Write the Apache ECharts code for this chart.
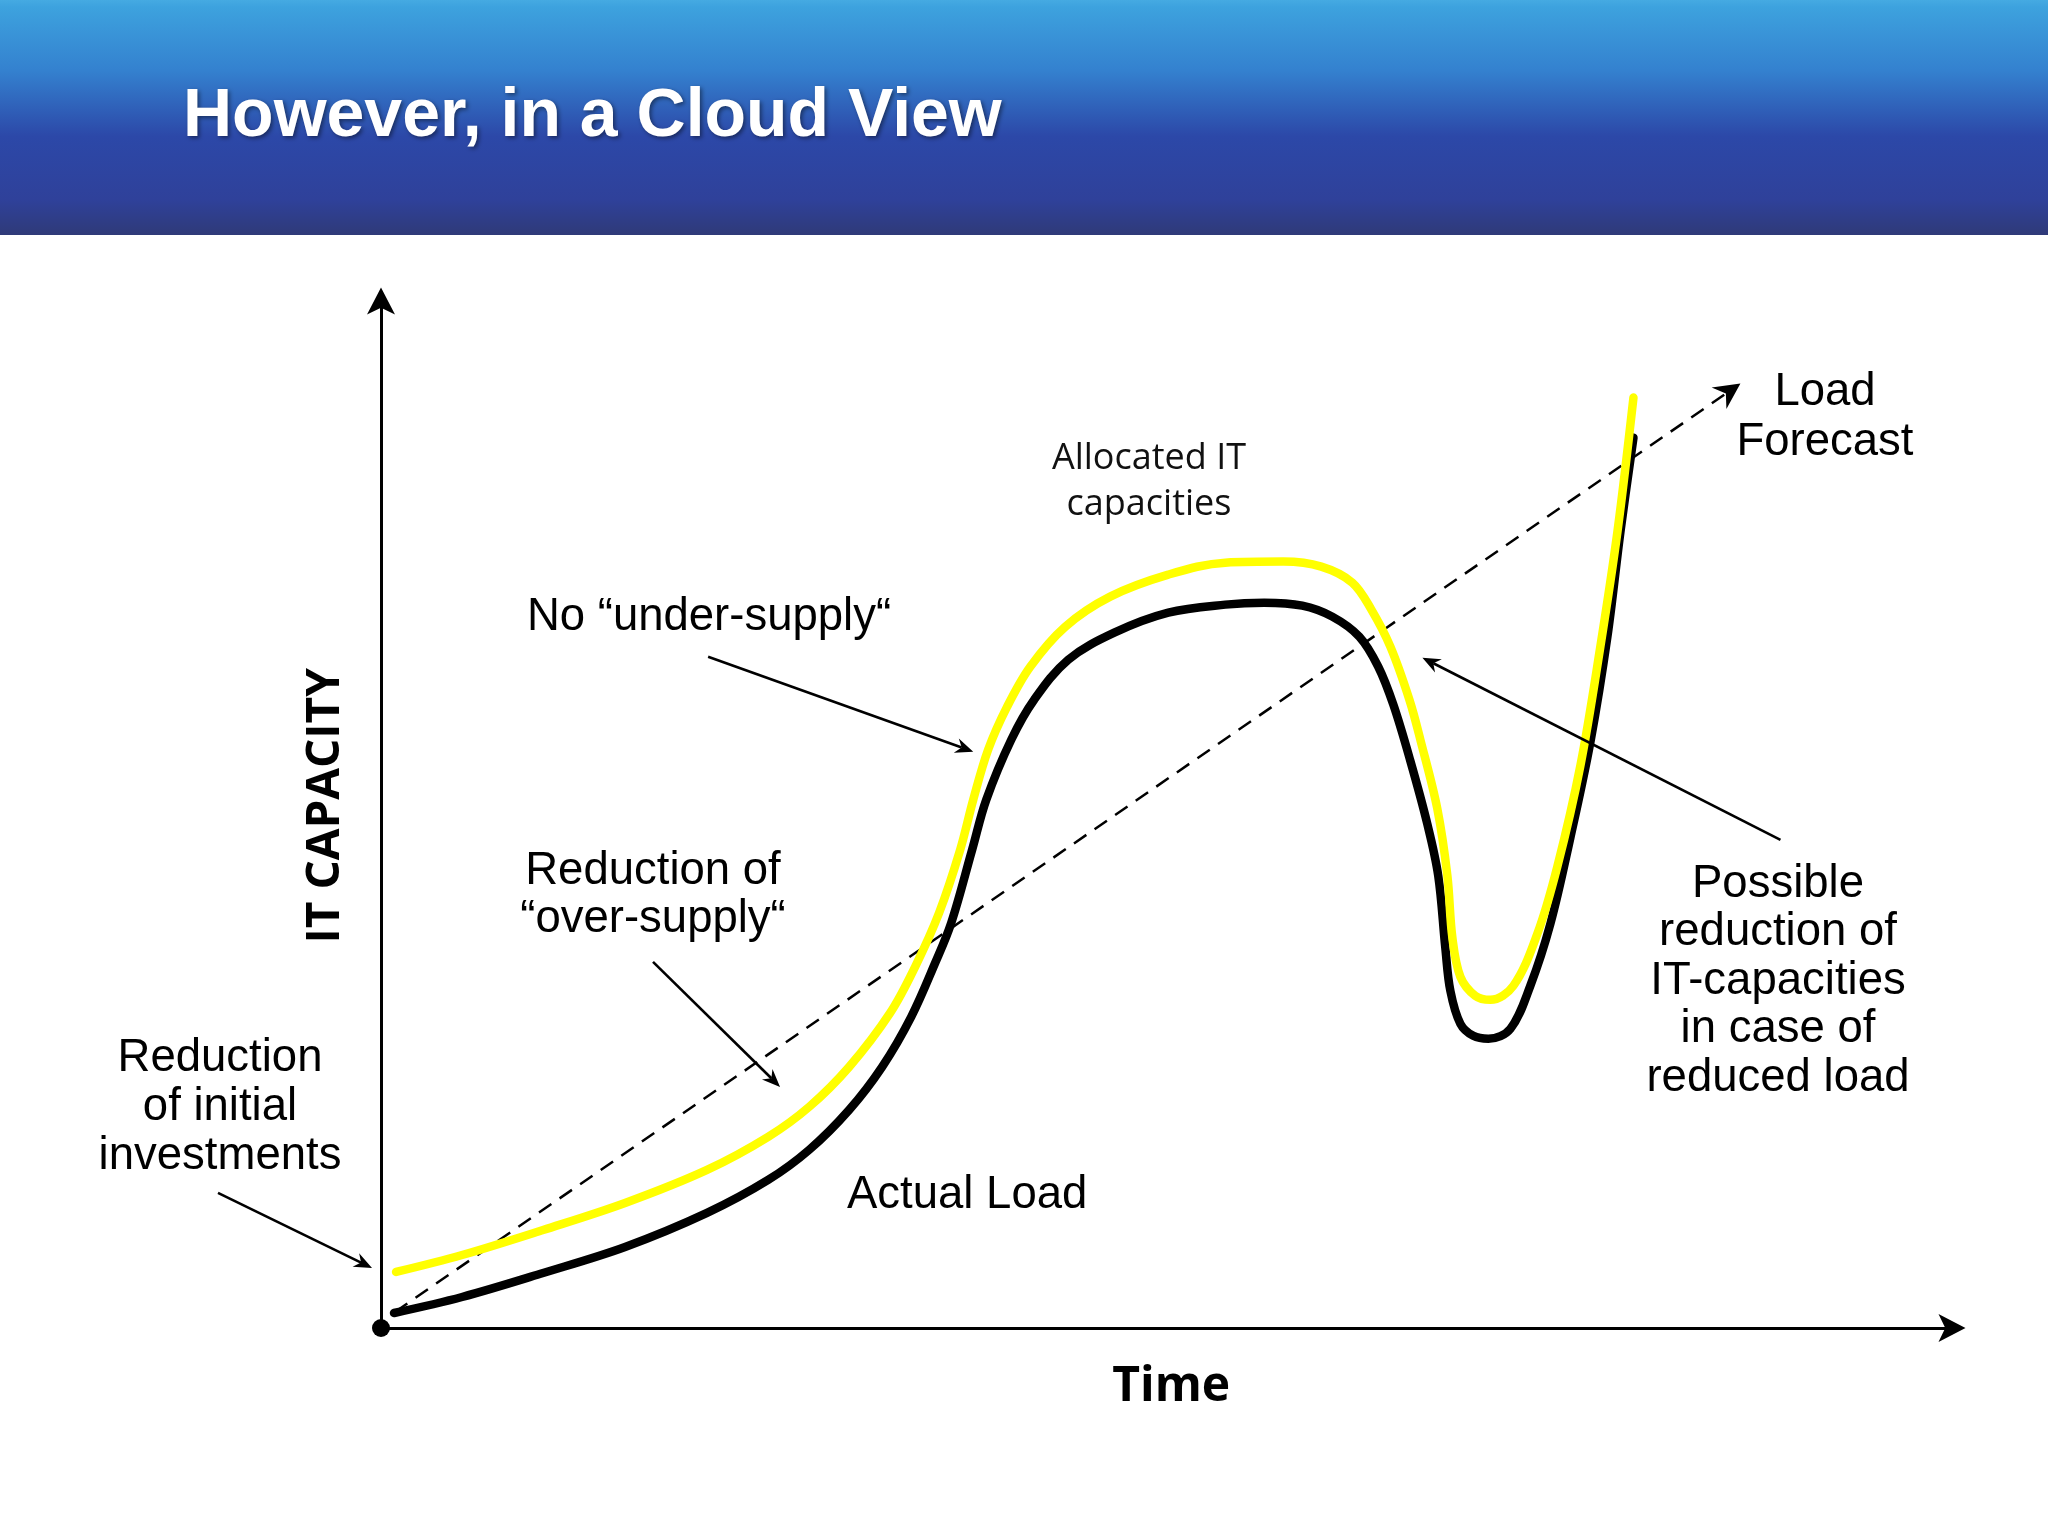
<!DOCTYPE html>
<html>
<head>
<meta charset="utf-8">
<script src="https://cdn.jsdelivr.net/npm/echarts@6/dist/echarts.min.js"></script>
<style>
html, body { margin: 0; padding: 0; background: #ffffff; }
#chart { width: 2048px; height: 1536px; }
</style>
</head>
<body>
<div id="chart"></div>
<script>
// ---------------- data (x: time units 0-100, y: capacity units 0-100) ----------------
const titleText = 'However, in a Cloud View';
const xAxisName = 'Time';
const yAxisName = 'IT CAPACITY';

// Actual Load (black curve)
const actualLoad = [
  [0.83, 1.46], [5.16, 3.02], [10.32, 5.36], [15.54, 7.89], [20.76, 11.21],
  [24.65, 14.42], [27.26, 17.35], [29.81, 21.25], [31.91, 25.44], [33.76, 30.31],
  [35.29, 35.58], [36.31, 39.47], [37.64, 46.59], [38.54, 51.46], [40.13, 57.31],
  [41.59, 61.21], [43.76, 65.11], [46.69, 67.74], [50.13, 69.69], [53.76, 70.47],
  [56.24, 70.66], [58.66, 70.37], [60.57, 69.30], [62.29, 67.35], [63.50, 64.42],
  [64.46, 60.72], [65.54, 55.26], [66.62, 49.12], [67.32, 44.05], [67.77, 37.04],
  [68.09, 32.85], [68.73, 29.63], [69.55, 28.46], [70.51, 28.17], [71.91, 29.14],
  [73.18, 33.33], [74.46, 39.38], [75.73, 47.76], [77.01, 57.12], [78.09, 67.35],
  [78.92, 77.58], [79.75, 86.74]
];

// Allocated IT capacities (yellow curve)
const allocatedCapacity = [
  [0.96, 5.46], [5.16, 7.11], [10.32, 9.55], [15.54, 12.18], [20.76, 15.40],
  [24.65, 18.62], [27.26, 21.54], [29.81, 25.44], [32.42, 30.70], [34.01, 35.19],
  [35.54, 40.45], [36.88, 46.59], [37.71, 51.46], [38.66, 56.34], [39.87, 60.53],
  [41.34, 64.42], [43.57, 68.32], [46.43, 71.25], [50.13, 73.39], [53.76, 74.56],
  [57.45, 74.66], [59.87, 74.17], [61.85, 72.61], [63.06, 69.98], [64.27, 66.37],
  [65.48, 61.21], [66.18, 57.31], [67.26, 50.58], [67.90, 44.05], [68.22, 38.01],
  [68.73, 34.21], [69.68, 32.36], [70.64, 31.97], [72.10, 33.33], [73.63, 38.40],
  [74.90, 44.93], [76.37, 54.78], [77.64, 66.37], [78.73, 77.58], [79.75, 90.64]
];

// Load Forecast (dashed arrow): [x1, y1, x2, y2]
const loadForecast = [[0.89, 1.56, 86.56, 92.01]];

// Callout arrows: [xFrom, yFrom, xTo, yTo]
const calloutArrows = [
  [-10.38, 13.16, -0.57, 5.85],   // initial investments
  [20.83, 65.40, 37.71, 56.14],   // no under-supply
  [17.32, 35.67, 25.41, 23.49],   // over-supply
  [89.11, 47.56, 66.31, 65.30]    // possible reduction
];

const originPoint = [[0, 0]];

// Annotation texts
const annotationTexts = [
  'Reduction\nof initial\ninvestments',
  'No \u201Cunder-supply\u201C',
  'Reduction of\n\u201Cover-supply\u201C',
  'Actual Load',
  'Load\nForecast',
  'Possible\nreduction of\nIT-capacities\nin case of\nreduced load',
  'Allocated IT\ncapacities'
];

// ---------------- rendering ----------------
const chart = echarts.init(document.getElementById('chart'), null, { renderer: 'canvas' });

function arrowRenderer(opts) {
  return function (params, api) {
    const p1 = api.coord([api.value(0), api.value(1)]);
    const p2 = api.coord([api.value(2), api.value(3)]);
    const dx = p2[0] - p1[0], dy = p2[1] - p1[1];
    const len = Math.hypot(dx, dy);
    const ux = dx / len, uy = dy / len;
    const px = -uy, py = ux;
    const L = opts.headLength, W = opts.headWidth;
    const bx = p2[0] - ux * L, by = p2[1] - uy * L;
    const nx = p2[0] - ux * L * 0.68, ny = p2[1] - uy * L * 0.68;
    return {
      type: 'group',
      children: [
        {
          type: 'line',
          shape: { x1: p1[0], y1: p1[1], x2: nx, y2: ny },
          style: { stroke: '#000', lineWidth: opts.width, lineDash: opts.dash || null }
        },
        {
          type: 'polygon',
          shape: { points: [[p2[0], p2[1]], [bx + px * W, by + py * W], [nx, ny], [bx - px * W, by - py * W]] },
          style: { fill: '#000' }
        }
      ]
    };
  };
}

const bodyFont = '45.5px "Liberation Sans", Arial, sans-serif';
function textEl(text, x, y, extra) {
  return {
    type: 'text', x: x, y: y, z: 100, silent: true,
    style: Object.assign({
      text: text, fill: '#000', font: bodyFont,
      align: 'center', verticalAlign: 'middle', lineHeight: 48
    }, extra || {})
  };
}

const option = {
  backgroundColor: '#ffffff',
  animation: false,
  title: {
    text: titleText,
    left: 183,
    top: 83,
    padding: 0,
    textStyle: {
      color: '#ffffff',
      fontSize: 68,
      fontWeight: 'bold',
      fontFamily: '"Liberation Sans", Arial, sans-serif',
      textShadowColor: 'rgba(0,0,0,0.45)',
      textShadowBlur: 4,
      textShadowOffsetX: 2,
      textShadowOffsetY: 2
    }
  },
  grid: {
    left: 381, right: 96.5, top: 301.5, bottom: 208,
    containLabel: false,
    outerBoundsMode: 'none'
  },
  xAxis: {
    type: 'value', min: 0, max: 100,
    name: xAxisName, nameLocation: 'middle', nameGap: 35,
    nameTextStyle: {
      fontFamily: '"Open Sans", sans-serif', fontWeight: 'bold', fontSize: 48, color: '#000',
      padding: [0, 0, 0, 10]
    },
    axisLine: {
      show: true, onZero: false,
      symbol: ['none', 'arrow'], symbolSize: [21, 27], symbolOffset: [0, 14],
      lineStyle: { color: '#000', width: 3 }
    },
    axisTick: { show: false }, axisLabel: { show: false }, splitLine: { show: false }
  },
  yAxis: {
    type: 'value', min: 0, max: 100,
    name: yAxisName, nameLocation: 'middle', nameGap: 32,
    nameTextStyle: {
      fontFamily: '"Open Sans", sans-serif', fontWeight: 'bold', fontSize: 46, color: '#000',
      padding: [0, 0, 0, 18]
    },
    axisLine: {
      show: true, onZero: false,
      symbol: ['none', 'arrow'], symbolSize: [21, 27], symbolOffset: [0, 14],
      lineStyle: { color: '#000', width: 3 }
    },
    axisTick: { show: false }, axisLabel: { show: false }, splitLine: { show: false }
  },
  graphic: [
    {
      type: 'rect', z: -10, silent: true,
      shape: { x: 0, y: 0, width: 2048, height: 235 },
      style: {
        fill: {
          type: 'linear', x: 0, y: 0, x2: 0, y2: 1,
          colorStops: [
            { offset: 0, color: '#45aae2' },
            { offset: 0.03, color: '#3da2de' },
            { offset: 0.3, color: '#3481cf' },
            { offset: 0.58, color: '#2c48a8' },
            { offset: 0.85, color: '#2f419a' },
            { offset: 1, color: '#2f3a78' }
          ]
        }
      }
    },
    textEl(annotationTexts[0], 220, 1107, { lineHeight: 49 }),
    textEl(annotationTexts[1], 709, 617),
    textEl(annotationTexts[2], 653, 895.5, { lineHeight: 47.5 }),
    textEl(annotationTexts[3], 847, 1195, { align: 'left' }),
    textEl(annotationTexts[4], 1825, 417, { lineHeight: 50 }),
    textEl(annotationTexts[5], 1778, 981, { lineHeight: 48.5 }),
    textEl(annotationTexts[6], 1149, 482, { font: '36px "Open Sans", sans-serif', lineHeight: 46, fill: '#111' })
  ],
  series: [
    {
      name: 'Load Forecast', type: 'custom', z: 1,
      data: loadForecast,
      renderItem: arrowRenderer({ width: 2.5, dash: [15, 10], headLength: 26, headWidth: 13 }),
      clip: false, silent: true
    },
    {
      name: 'Actual Load', type: 'line', z: 2,
      data: actualLoad, smooth: 0.35, showSymbol: false, symbol: 'none', clip: false,
      lineStyle: { color: '#000000', width: 8.5, cap: 'round', join: 'round' },
      silent: true
    },
    {
      name: 'Allocated IT capacities', type: 'line', z: 3,
      data: allocatedCapacity, smooth: 0.35, showSymbol: false, symbol: 'none', clip: false,
      lineStyle: { color: '#ffff00', width: 8.5, cap: 'round', join: 'round' },
      silent: true
    },
    {
      name: 'Origin', type: 'scatter', z: 10,
      data: originPoint, symbol: 'circle', symbolSize: 18, clip: false,
      itemStyle: { color: '#000000', opacity: 1 }, silent: true
    },
    {
      name: 'Callouts', type: 'custom', z: 6,
      data: calloutArrows,
      renderItem: arrowRenderer({ width: 2.6, headLength: 18, headWidth: 7.5 }),
      clip: false, silent: true
    }
  ]
};

chart.setOption(option);
</script>
</body>
</html>
